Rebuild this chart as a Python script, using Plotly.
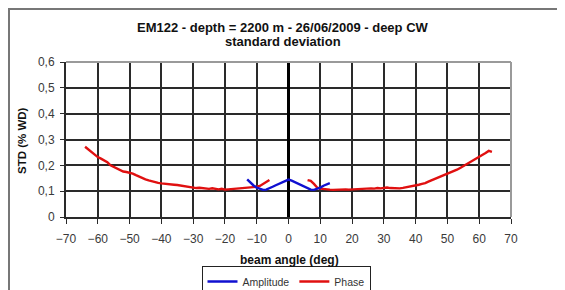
import plotly.graph_objects as go

# Phase (red) - left branch
phase_left_angle = [-64, -63, -62, -61, -60, -59, -58, -57, -56, -55, -54, -53, -52, -51, -50,
                    -49, -48, -47, -46, -45, -44, -43, -42, -41, -40, -39, -38, -37, -36, -35,
                    -34, -33, -32, -31, -30, -29, -28, -27, -26, -25, -24, -23, -22, -21, -20,
                    -19, -18, -17, -16, -15, -14, -13, -12, -11, -10, -9, -8, -7, -6]
phase_left_std = [0.272, 0.262, 0.252, 0.243, 0.232, 0.226, 0.218, 0.212, 0.200, 0.194, 0.186, 0.180, 0.176, 0.174, 0.172,
                  0.168, 0.162, 0.156, 0.151, 0.146, 0.142, 0.138, 0.134, 0.132, 0.130, 0.128, 0.127, 0.126, 0.125, 0.124,
                  0.122, 0.121, 0.120, 0.118, 0.114, 0.112, 0.113, 0.111, 0.110, 0.109, 0.111, 0.108, 0.107, 0.109, 0.106,
                  0.107, 0.108, 0.109, 0.110, 0.110, 0.112, 0.113, 0.114, 0.115, 0.117, 0.120, 0.128, 0.138, 0.143]

# Phase (red) - right branch
phase_right_angle = [6, 7, 8, 9, 10, 11, 12, 13, 14, 15, 16, 17, 18, 19, 20,
                     21, 22, 23, 24, 25, 26, 27, 28, 29, 30, 31, 32, 33, 34, 35,
                     36, 37, 38, 39, 40, 41, 42, 43, 44, 45, 46, 47, 48, 49, 50,
                     51, 52, 53, 54, 55, 56, 57, 58, 59, 60, 61, 62, 63, 64]
phase_right_std = [0.143, 0.140, 0.128, 0.114, 0.110, 0.108, 0.107, 0.106, 0.105, 0.106, 0.105, 0.106, 0.107, 0.106, 0.107,
                   0.108, 0.109, 0.108, 0.110, 0.110, 0.111, 0.110, 0.112, 0.111, 0.113, 0.114, 0.112, 0.111, 0.110, 0.111,
                   0.113, 0.115, 0.117, 0.120, 0.123, 0.125, 0.128, 0.131, 0.137, 0.142, 0.146, 0.150, 0.155, 0.160, 0.166,
                   0.171, 0.177, 0.183, 0.190, 0.197, 0.203, 0.210, 0.217, 0.225, 0.233, 0.240, 0.248, 0.256, 0.252]

# Amplitude (blue)
amp_angle = [-13, -12, -11, -10, -9, -8, -7, -6, -5, -4, -3, -2, -1, 0, 1, 2, 3, 4, 5, 6, 7, 8, 9, 10, 11, 12, 13]
amp_std = [0.146, 0.132, 0.122, 0.114, 0.108, 0.105, 0.106, 0.110, 0.117, 0.123, 0.129, 0.136, 0.141, 0.145,
           0.141, 0.135, 0.128, 0.121, 0.115, 0.110, 0.106, 0.105, 0.108, 0.114, 0.121, 0.127, 0.131]

x_ticks = [-70, -60, -50, -40, -30, -20, -10, 0, 10, 20, 30, 40, 50, 60, 70]
y_ticks = [0, 0.1, 0.2, 0.3, 0.4, 0.5, 0.6]
y_tick_labels = ["0", "0,1", "0,2", "0,3", "0,4", "0,5", "0,6"]

title_line1 = "EM122 - depth = 2200 m - 26/06/2009 - deep CW"
title_line2 = "standard deviation"
x_title = "beam angle (deg)"
y_title = "STD (% WD)"

FONT = "Liberation Sans, Arial, sans-serif"

fig = go.Figure()
fig.add_trace(go.Scatter(x=phase_left_angle, y=phase_left_std, mode="lines", name="Phase",
                         line=dict(color="#e01010", width=2.4), legendgroup="ph", legendrank=2))
fig.add_trace(go.Scatter(x=phase_right_angle, y=phase_right_std, mode="lines", name="Phase",
                         line=dict(color="#e01010", width=2.4), legendgroup="ph", showlegend=False,
                         legendrank=2))
fig.add_trace(go.Scatter(x=amp_angle, y=amp_std, mode="lines", name="Amplitude",
                         line=dict(color="#1010d0", width=2.4), legendrank=1))

# page body has an 8px margin; positions below are given in window pixels
OFF = 8
W, H = 565 - OFF, 290 - OFF
L, R, T, B = 66, 511, 62, 217

def px(xpix):
    return (xpix - L) / (R - L)

def py(ypix):
    return (B - ypix) / (B - T)

GRID = "#2a2a2a"

fig.update_layout(
    width=W, height=H,
    margin=dict(l=L - OFF, r=565 - R, t=T - OFF, b=290 - B, autoexpand=False),
    paper_bgcolor="white", plot_bgcolor="white",
    font=dict(family=FONT, size=11, color="#222"),
    showlegend=True,
    legend=dict(orientation="h", x=px(286), xanchor="center", y=py(266), yanchor="top",
                bordercolor="#222", borderwidth=1, font=dict(size=10.5, color="#333"),
                itemwidth=30, tracegroupgap=0, traceorder="normal"),
    xaxis=dict(range=[-70, 70], tick0=0, dtick=10,
               showgrid=True, gridcolor=GRID, gridwidth=2,
               zeroline=True, zerolinecolor="#000", zerolinewidth=2.8,
               showline=True, linecolor=GRID, linewidth=2, mirror=False,
               ticks="outside", ticklen=5, tickcolor=GRID, tickwidth=1,
               ticklabelstandoff=5,
               tickfont=dict(size=12, color="#3a3a3a"), fixedrange=True),
    yaxis=dict(range=[0, 0.6], tickmode="array", tickvals=y_ticks, ticktext=y_tick_labels,
               showgrid=True, gridcolor=GRID, gridwidth=2,
               zeroline=False,
               showline=True, linecolor=GRID, linewidth=2,
               ticks="outside", ticklen=4, tickcolor=GRID, tickwidth=1,
               ticklabelstandoff=3,
               tickfont=dict(size=12, color="#3a3a3a"), fixedrange=True),
    annotations=[
        dict(text="<b>" + title_line1 + "</b>", xref="paper", yref="paper",
             x=px(283), y=py(27), xanchor="center", yanchor="middle", showarrow=False,
             font=dict(size=13, color="#111")),
        dict(text="<b>" + title_line2 + "</b>", xref="paper", yref="paper",
             x=px(283), y=py(41), xanchor="center", yanchor="middle", showarrow=False,
             font=dict(size=13, color="#111")),
        dict(text="<b>" + x_title + "</b>", xref="paper", yref="paper",
             x=px(289), y=py(260), xanchor="center", yanchor="middle", showarrow=False,
             font=dict(size=12, color="#111")),
        dict(text="<b>" + y_title + "</b>", xref="paper", yref="paper",
             x=px(22), y=py(141), xanchor="center", yanchor="middle", showarrow=False,
             textangle=-90, font=dict(size=11.5, color="#111")),
    ],
    shapes=[
        # outer chart frame
        dict(type="rect", xref="paper", yref="paper",
             x0=px(9), x1=px(620), y0=py(330), y1=py(9),
             line=dict(color="#777", width=2)),
        # light grey top and right edges of the plot area
        dict(type="line", xref="paper", yref="paper", x0=0, x1=1, y0=1, y1=1,
             line=dict(color="#9a9a9a", width=2)),
        dict(type="line", xref="paper", yref="paper", x0=1, x1=1, y0=0, y1=1,
             line=dict(color="#9a9a9a", width=2)),
    ],
)

fig.write_html("out.html")
